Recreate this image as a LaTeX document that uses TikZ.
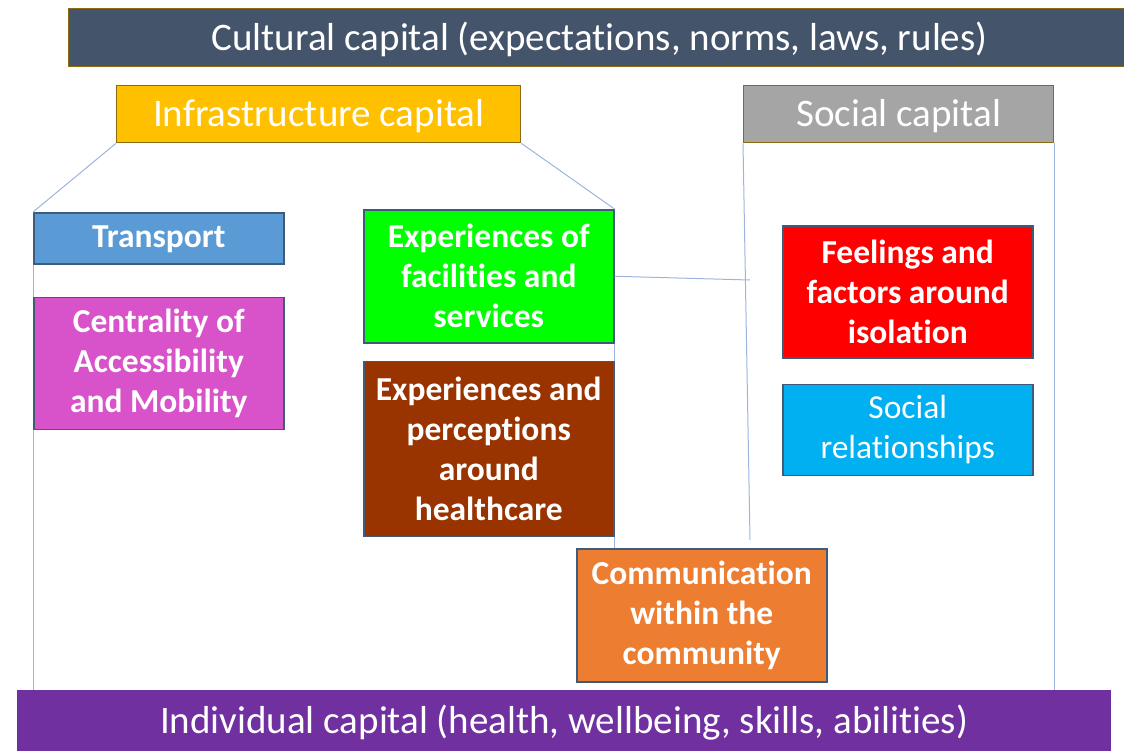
\documentclass[tikz,border=0pt]{standalone}
\usepackage{fontspec}
\setmainfont{Carlito}[Ligatures={NoCommon,NoContextual},Contextuals=NoAlternate]
\usetikzlibrary{positioning}
\definecolor{culturalslate}{HTML}{44546A}
\definecolor{infragold}{HTML}{FFC000}
\definecolor{socialgray}{HTML}{A5A5A5}
\definecolor{headerrim}{HTML}{8C6A12}
\definecolor{boxrim}{HTML}{3F5A7A}
\definecolor{transportblue}{HTML}{5B9BD5}
\definecolor{centralmagenta}{HTML}{D852CA}
\definecolor{facilitygreen}{HTML}{00FF00}
\definecolor{healthbrown}{HTML}{993300}
\definecolor{isolationred}{HTML}{FF0000}
\definecolor{relationcyan}{HTML}{00B0F0}
\definecolor{commorange}{HTML}{ED7D31}
\definecolor{individualpurple}{HTML}{7030A0}
\definecolor{linkblue}{HTML}{9DB4DE}

\begin{document}
\begin{tikzpicture}[
    x=1pt, y=1pt,
    capital/.style={draw=headerrim, line width=1.3pt, fill=#1, text=white,
                    font=\fontsize{39}{46}\selectfont, inner sep=0pt,
                    anchor=north west},
    theme/.style={draw=boxrim, line width=1.5pt, fill=#1, text=white,
                  font=\fontsize{33.5}{40}\selectfont\bfseries, align=center,
                  minimum width=250, inner sep=0pt, anchor=north west},
    link/.style={linkblue, line width=1pt}
  ]
    \useasboundingbox (0,0) rectangle (1124,-750);

    % === Capitals ===
    \node[capital=culturalslate, minimum width=1062, minimum height=58,
          text depth=3pt]
      (cultural) at (68,-8) {Cultural capital (expectations, norms, laws, rules)};
    \node[capital=infragold, minimum width=404, minimum height=57,
          text depth=2pt]
      (infra) at (116,-85) {Infrastructure capital};
    \node[capital=socialgray, minimum width=310, minimum height=57,
          text depth=2pt]
      (social) at (743,-85) {Social capital};
    \node[capital=individualpurple, draw=individualpurple,
          minimum width=1093, minimum height=64]
      (individual) at (17,-690) {Individual capital (health, wellbeing, skills, abilities)};

    % === Infrastructure themes ===
    \node[theme=transportblue, minimum height=51, text depth=3pt]
      (transport) at (33,-212) {Transport};
    \node[theme=centralmagenta, minimum height=132, below=32 of transport]
      (central) {Centrality of\\Accessibility\\and Mobility};
    \node[theme=facilitygreen, minimum height=133]
      (facilities) at (363,-209) {Experiences of\\facilities and\\services};
    \node[theme=healthbrown, minimum height=175, below=17 of facilities]
      (health) {Experiences and\\perceptions\\around\\healthcare};

    % === Social themes ===
    \node[theme=isolationred, minimum height=132]
      (isolation) at (782,-225) {Feelings and\\factors around\\isolation};
    \node[theme=relationcyan, minimum height=91, below=25 of isolation,
          font=\fontsize{33.5}{40}\selectfont]
      (relations) {Social\\relationships};

    % === Shared ===
    \node[theme=commorange, minimum height=133]
      (community) at (576,-548) {Communication\\within the\\community};

    % Links
    \coordinate (socialtap) at (750,-280);
    \coordinate (socialfoot) at (750,-540);
    \draw[link] (infra.south west) -- (transport.north west);
    \draw[link] (infra.south east) -- (facilities.north east);
    \draw[link] (transport.south west) -- (central.north west);
    \draw[link] (central.south west) -- (individual.north -| central.west);
    \draw[link] (facilities.south east) -- (health.north east);
    \draw[link] (health.south east) -- (community.north -| health.east);
    \draw[link] (facilities.east) -- (socialtap);
    \draw[link] (social.south west) -- (socialfoot);
    \draw[link] (social.south east) -- (individual.north -| social.east);
  \end{tikzpicture}
\end{document}
